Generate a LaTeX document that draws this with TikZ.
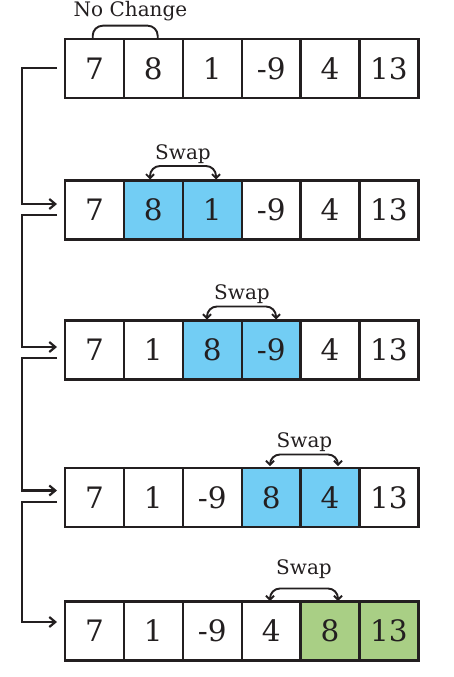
\documentclass[tikz,border=0pt]{standalone}
\usepackage{fontspec}
\setmainfont{DejaVu Serif}
\usetikzlibrary{arrows.meta}
\definecolor{swapblue}{HTML}{72CDF4}
\definecolor{donegreen}{HTML}{A9CF85}
\definecolor{ink}{HTML}{231F20}
\begin{document}
\begin{tikzpicture}[x=1pt,y=-1pt,
  cell/.style={draw=ink, line width=2.4pt, minimum width=58.9pt, minimum height=59pt,
    inner sep=0pt, font=\fontsize{29.5}{29.5}\selectfont, text=ink},
  blue/.style={fill=swapblue},
  green/.style={fill=donegreen},
  conn/.style={draw=ink, line width=2.2pt},
  tip/.style={-{Straight Barb[length=6pt,width=10pt]}},
  brk/.style={draw=ink, line width=1.9pt, rounded corners=10pt},
  brkarr/.style={{Straight Barb[length=4pt,width=8pt]}-{Straight Barb[length=4pt,width=8pt]}},
  lbl/.style={font=\fontsize{20}{20}\selectfont, text=ink, anchor=base, inner sep=0pt}]
\useasboundingbox (0,0) rectangle (454,677);

% rows of cells
\foreach \r/\y/\list in {
  1/68.5/{7//,8//,1//,-9//,4//,13//},
  2/210/{7//,8/blue/,1/blue/,-9//,4//,13//},
  3/350/{7//,1//,8/blue/,-9/blue/,4//,13//},
  4/497.5/{7//,1//,-9//,8/blue/,4/blue/,13//},
  5/631/{7//,1//,-9//,4//,8/green/,13/green/}}{
  \foreach \v/\s/\e [count=\c] in \list {
    \node[cell,\s] (r\r c\c) at ({65+58.9*(\c-0.5)},\y) {\v};
  }
}

% labels and brackets
\node[lbl] (nc) at (130.5,17) {No Change};
\draw[brk] (92.7,40) -- (92.7,25.7) -- (157.7,25.7) -- (157.7,40);

\node[lbl] (s2) at (183,159) {Swap};
\draw[brk,brkarr] (150,179.5) -- (150,166) -- (216,166) -- (216,179.5);

\node[lbl] (s3) at (242,299) {Swap};
\draw[brk,brkarr] (207,319.5) -- (207,306.5) -- (276,306.5) -- (276,319.5);

\node[lbl] (s4) at (304.5,447.5) {Swap};
\draw[brk,brkarr] (270,466) -- (270,454.5) -- (338,454.5) -- (338,466);

\node[lbl] (s5) at (304,574) {Swap};
\draw[brk,brkarr] (270,601) -- (270,588.5) -- (338,588.5) -- (338,601);

% connector end points
\coordinate (o1) at (57,68);
\coordinate (i2) at (57,204);
\coordinate (o2) at (57,215);
\coordinate (i3) at (57,347);
\coordinate (o3) at (57,358);
\coordinate (i4) at (57,490.5);
\coordinate (o4) at (57,502);
\coordinate (i5) at (57,622);

\draw[conn,tip] (o1) -- ++(-35.3,0) |- (i2);
\draw[conn,tip] (o2) -- ++(-35.3,0) |- (i3);
\draw[conn,tip] (o3) -- ++(-35.3,0) |- (i4);
\draw[conn,tip] (o4) -- ++(-35.3,0) |- (i5);
\end{tikzpicture}
\end{document}
